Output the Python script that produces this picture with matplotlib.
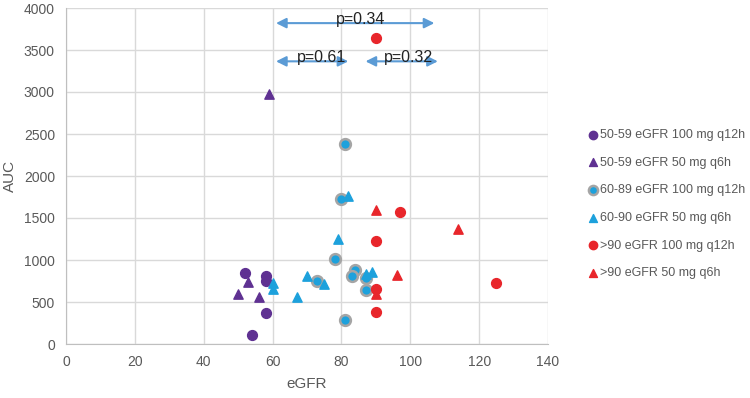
import matplotlib
matplotlib.use('Agg')
import matplotlib.pyplot as plt

# data (eGFR, AUC)
g1_x = [52, 58, 58, 58, 54]
g1_y = [850, 810, 745, 375, 110]
g2_x = [59, 53, 50, 56]
g2_y = [2980, 740, 590, 560]
g3_x = [81, 80, 78, 73, 84, 83, 87, 87, 81]
g3_y = [2380, 1725, 1010, 745, 880, 810, 790, 640, 290]
g4_x = [82, 79, 60, 60, 67, 70, 75, 87, 89]
g4_y = [1760, 1245, 724, 654, 560, 810, 710, 835, 860]
g5_x = [90, 97, 90, 90, 90, 125]
g5_y = [3645, 1570, 1230, 660, 380, 730]
g6_x = [90, 114, 90, 96]
g6_y = [1590, 1375, 590, 825]

labels = ['50-59 eGFR 100 mg q12h', '50-59 eGFR 50 mg q6h',
          '60-89 eGFR 100 mg q12h', '60-90 eGFR 50 mg q6h',
          '>90 eGFR 100 mg q12h', '>90 eGFR 50 mg q6h']

# p-value brackets: (x start, x end, y, text x, text)
p_lines = [(61, 107, 3820, 85.7, 'p=0.34'),
           (61, 82, 3365, 74.2, 'p=0.61'),
           (87, 108, 3365, 99.4, 'p=0.32')]

purple = '#5F3192'
cyan = '#1DA1DC'
red = '#E8262B'
grey = '#595959'

plt.rcParams['font.family'] = ['Liberation Sans', 'DejaVu Sans']

fig = plt.figure(figsize=(7.5, 3.98), dpi=100)
ax = fig.add_axes([66/750, 1 - 344/398, (548 - 66)/750, (344 - 8)/398])

ax.scatter(g1_x, g1_y, s=50, marker='o', color=purple, label=labels[0], zorder=3)
ax.scatter(g2_x, g2_y, s=45, marker='^', color=purple, label=labels[1], zorder=3)
ax.scatter(g3_x, g3_y, s=60, marker='o', color=cyan, edgecolors='#A5A5A5',
           linewidths=1.8, label=labels[2], zorder=3)
ax.scatter(g4_x, g4_y, s=45, marker='^', color=cyan, label=labels[3], zorder=3)
ax.scatter(g5_x, g5_y, s=50, marker='o', color=red, label=labels[4], zorder=3)
ax.scatter(g6_x, g6_y, s=45, marker='^', color=red, label=labels[5], zorder=3)

for x0, x1, y, tx, txt in p_lines:
    ax.annotate('', xy=(x0, y), xytext=(x1, y),
                arrowprops=dict(arrowstyle='<|-|>', color='#5B9BD5', lw=1.5,
                                mutation_scale=15, shrinkA=0, shrinkB=0), zorder=4)
    ax.text(tx, y + 45, txt, ha='center', va='center', fontsize=11.5,
            color='#222222', zorder=5)

ax.set_xlim(0, 140)
ax.set_ylim(0, 4000)
ax.set_xticks(range(0, 141, 20))
ax.set_yticks(range(0, 4001, 500))
ax.grid(True, color='#D9D9D9', lw=1)
ax.set_axisbelow(True)
for s in ['top', 'right']:
    ax.spines[s].set_visible(False)
for s in ['left', 'bottom']:
    ax.spines[s].set_color('#BFBFBF')
ax.tick_params(length=0, labelsize=10, colors=grey, pad=8)
ax.set_xlabel('eGFR', fontsize=11, color=grey, labelpad=6)
ax.set_ylabel('AUC', fontsize=11, color=grey, labelpad=5)

ax.legend(loc='upper left', bbox_to_anchor=(582/750, 1 - 124/398),
          bbox_transform=fig.transFigure, frameon=False, fontsize=9,
          labelcolor=grey, handletextpad=0.05, labelspacing=1.25,
          borderaxespad=0, handlelength=1.0, markerscale=0.85)

fig.savefig('out.png', dpi=100)
